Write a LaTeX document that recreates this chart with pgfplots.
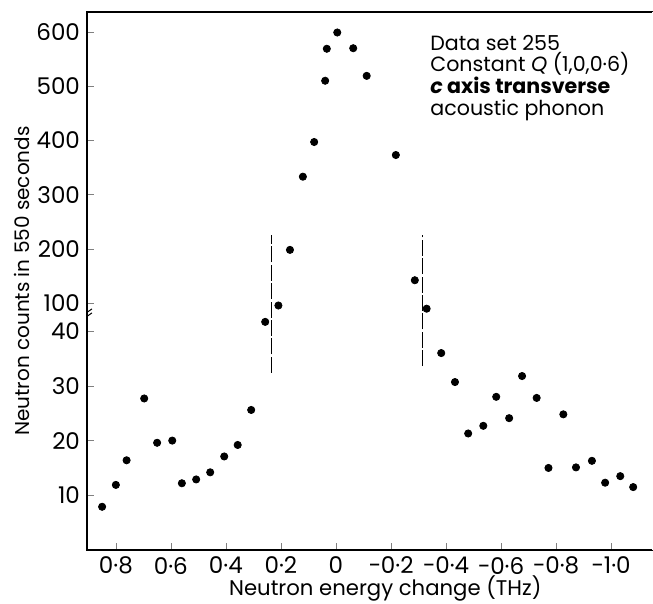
\documentclass[border=0pt]{standalone}
\usepackage{fontspec}
\setmainfont{Poppins}
\usepackage{pgfplots}
\pgfplotsset{compat=1.18}
\usetikzlibrary{calc}
\begin{document}
\fontsize{10}{10.8}\selectfont
\begin{tikzpicture}
\begin{axis}[
  name=ax,
  scale only axis,
  width=283pt, height=269pt,
  x dir=reverse,
  xmin=-1.153, xmax=0.905,
  ymin=0, ymax=636.8,
  % broken y axis: 0..45 linear, 100..600 compressed ten times
  y coord trafo/.code={\pgfmathparse{(#1<70)*(#1)+(#1>=70)*(45.15+(#1-100)*0.0991)}},
  y coord inv trafo/.code={\pgfmathparse{(#1<43.3)*(#1)+(#1>=43.3)*(100+(#1-45.15)/0.0991)}},
  xtick={0.8,0.6,0.4,0.2,0,-0.2,-0.4,-0.6,-0.8,-1.0},
  xticklabels={0·8,0·6,0·4,0·2,0,−0·2,−0·4,−0·6,−0·8,−1·0},
  ytick={10,20,30,40,100,200,300,400,500,600},
  yticklabels={10,20,30,40,100,200,300,400,500,600},
  xtick pos=bottom, ytick pos=left,
  tick align=inside,
  major tick length=3.5pt,
  tick label style={font=\fontsize{11.5}{12}\selectfont},
  xlabel={Neutron energy change (THz)},
  ylabel={Neutron counts in 550 seconds},
  xlabel style={at={(axis description cs:0.527,-0.071)}, anchor=center, font=\fontsize{10.6}{12}\selectfont},
  ylabel style={at={(axis description cs:-0.115,0.5)}, anchor=center},
  axis line style={line width=0.7pt},
]
\addplot[only marks, mark=*, mark size=1.8pt, black] coordinates {
  (0.85,7.9) (0.80,11.9) (0.761,16.4) (0.697,27.7) (0.650,19.6) (0.595,20.0)
  (0.56,12.2) (0.508,12.9) (0.457,14.2) (0.406,17.1) (0.357,19.2) (0.308,25.6)
  (0.257,41.7) (0.209,95.4) (0.167,198) (0.12,333) (0.079,397) (0.039,510)
  (0.033,569) (-0.005,599) (-0.063,570) (-0.112,519) (-0.218,373) (-0.287,142)
  (-0.33,89.5) (-0.383,36.0) (-0.433,30.7) (-0.481,21.3) (-0.536,22.7) (-0.583,28.0)
  (-0.63,24.1) (-0.677,31.8) (-0.73,27.8) (-0.773,15.0) (-0.827,24.8) (-0.873,15.1)
  (-0.931,16.3) (-0.979,12.3) (-1.034,13.5) (-1.081,11.5)
};
\addplot[black, dash pattern=on 8pt off 1.2pt, line width=0.6pt] coordinates {(0.234,32.4) (0.234,225.5)};
\addplot[black, dash pattern=on 8pt off 1.2pt, line width=0.6pt] coordinates {(-0.315,33.6) (-0.315,225.5)};
\node[anchor=north west, align=left, inner sep=0pt, font=\fontsize{10.3}{10.85}\selectfont]
  at (axis description cs:0.606,0.958)
  {Data set 255\\Constant \textit{Q} (1,0,0·6)\\\textbf{\textit{c} axis transverse}\\acoustic phonon};
\draw[line width=0.5pt] ($(axis description cs:0,0.437)+(-2.5pt,-2.5pt)$) -- ++(5pt,3.5pt);
\draw[line width=0.5pt] ($(axis description cs:0,0.437)+(-2.5pt,-0.5pt)$) -- ++(5pt,3.5pt);
\end{axis}
\draw[white, line width=1.5pt] (ax.south east) -- (ax.north east);
\pgfresetboundingbox
\path ($(ax.south west)+(-43.5pt,-27pt)$) rectangle ($(ax.north east)+(0pt,6pt)$);
\end{tikzpicture}
\end{document}
